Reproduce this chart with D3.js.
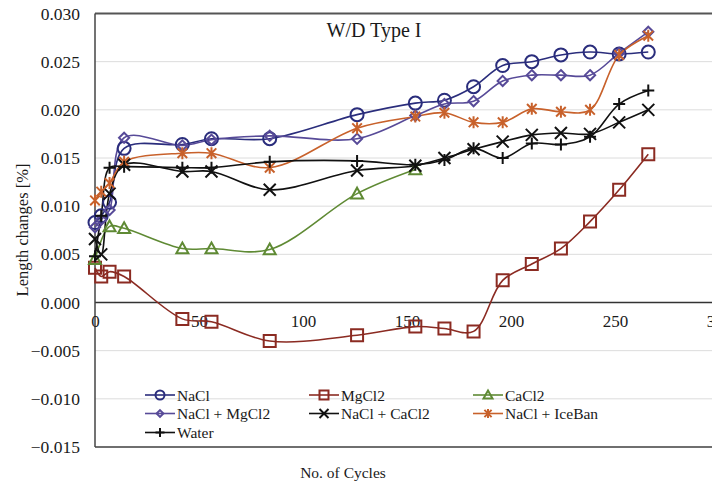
<!DOCTYPE html>
<html><head><meta charset="utf-8">
<script src="https://cdn.jsdelivr.net/npm/d3@7"></script>
<style>body{margin:0;background:#fff}svg{display:block}text{font-family:"Liberation Serif","Times New Roman",serif;fill:#1a1a1a}</style>
</head><body><svg id="c" width="712" height="483"></svg>
<script>
const cycles = [0,3,7,14,42,56,84,126,154,168,182,196,210,224,238,252,266];
const cyclesCaCl2 = [0,7,14,42,56,84,126,154];
const nacl      = [0.0083,0.0090,0.0104,0.0160,0.0164,0.0170,0.0170,0.0195,0.0207,0.0210,0.0224,0.0246,0.0250,0.0257,0.0260,0.0258,0.0260];
const mgcl2     = [0.0036,0.0027,0.0032,0.0027,-0.0017,-0.0020,-0.0040,-0.0034,-0.0025,-0.0027,-0.0030,0.0023,0.0040,0.0056,0.0084,0.0117,0.0154];
const cacl2     = [0.0045,0.0079,0.0077,0.0056,0.0056,0.0055,0.0113,0.0138];
const naclMgcl2 = [0.0078,0.0086,0.0096,0.0171,0.0163,0.0169,0.0173,0.0170,0.0194,0.0206,0.0209,0.0230,0.0236,0.0236,0.0236,0.0259,0.0281];
const naclCacl2 = [0.0066,0.0050,0.0113,0.0143,0.0136,0.0136,0.0117,0.0137,0.0142,0.0150,0.0159,0.0167,0.0174,0.0176,0.0175,0.0187,0.0200];
const naclIceban= [0.0106,0.0115,0.0124,0.0146,0.0155,0.0155,0.0140,0.0181,0.0193,0.0197,0.0187,0.0187,0.0201,0.0198,0.0200,0.0257,0.0277];
const water     = [0.0048,0.0090,0.0140,0.0141,0.0140,0.0140,0.0146,0.0147,0.0143,0.0148,0.0160,0.0150,0.0165,0.0164,0.0172,0.0206,0.0220];
const seriesNames = ["NaCl","MgCl2","CaCl2","NaCl + MgCl2","NaCl + CaCl2","NaCl + IceBan","Water"];
const yTicks = [-0.015,-0.010,-0.005,0,0.005,0.010,0.015,0.020,0.025,0.030];
const xTicks = [0,50,100,150,200,250,300];

const series = [
  {name:seriesNames[0], x:cycles, y:nacl, color:"#2a2d7c", marker:"circle"},
  {name:seriesNames[1], x:cycles, y:mgcl2, color:"#8b2b22", marker:"square"},
  {name:seriesNames[2], x:cyclesCaCl2, y:cacl2, color:"#5f8a34", marker:"triangle"},
  {name:seriesNames[3], x:cycles, y:naclMgcl2, color:"#574a98", marker:"diamond"},
  {name:seriesNames[4], x:cycles, y:naclCacl2, color:"#111111", marker:"x"},
  {name:seriesNames[5], x:cycles, y:naclIceban, color:"#c8612b", marker:"star"},
  {name:seriesNames[6], x:cycles, y:water, color:"#111111", marker:"plus"}
];

const svg = d3.select("#c");
svg.append("rect").attr("width",712).attr("height",483).attr("fill","#fff");
const x = d3.scaleLinear().domain([0,300]).range([95,719]);
const y = d3.scaleLinear().domain([-0.015,0.030]).range([447,13.5]);

svg.append("g").selectAll("line").data(yTicks).join("line")
  .attr("x1",95).attr("x2",719).attr("y1",d=>y(d)).attr("y2",d=>y(d))
  .attr("stroke",d=>d===0?"#333":"#dcdcdc").attr("stroke-width",d=>d===0?1.5:1);
svg.append("line").attr("x1",95).attr("x2",719).attr("y1",y(0.030)).attr("y2",y(0.030)).attr("stroke","#555").attr("stroke-width",2);
svg.append("line").attr("x1",95).attr("x2",719).attr("y1",y(-0.015)).attr("y2",y(-0.015)).attr("stroke","#444").attr("stroke-width",1.5);
svg.append("line").attr("x1",95).attr("x2",95).attr("y1",y(0.030)).attr("y2",y(-0.015)).attr("stroke","#444").attr("stroke-width",1.5);

const yAxis = d3.axisLeft(y).tickValues(yTicks).tickFormat(d3.format(".3f")).tickSize(0).tickPadding(15);
const gy = svg.append("g").attr("transform","translate(95,0)").call(yAxis).attr("font-family",null);
gy.select(".domain").remove();
gy.selectAll("text").style("font-family","'Liberation Serif', serif").style("font-size","17.5px").attr("fill","#1a1a1a");

const xAxis = d3.axisBottom(x).tickValues(xTicks).tickSize(0).tickPadding(12);
const gx = svg.append("g").attr("transform",`translate(0,${y(0)})`).call(xAxis).attr("font-family",null);
gx.select(".domain").remove();
gx.selectAll("text").style("font-family","'Liberation Serif', serif").style("font-size","17px").attr("fill","#1a1a1a");
gx.selectAll(".tick").filter(d=>d===0).select("text").attr("fill","#888");

function markerPath(type, s){
  const h=s/2;
  switch(type){
    case "circle": return d3.symbol(d3.symbolCircle, Math.PI*h*h)();
    case "square": return `M${-h},${-h}H${h}V${h}H${-h}Z`;
    case "triangle": return `M0,${-h}L${h},${h*0.8}L${-h},${h*0.8}Z`;
    case "diamond": {const k=h*0.85; return `M0,${-k}L${k},0L0,${k}L${-k},0Z`;}
    case "x": return `M${-h},${-h}L${h},${h}M${-h},${h}L${h},${-h}`;
    case "plus": return `M${-h},0H${h}M0,${-h}V${h}`;
    case "star": return `M${-h*0.8},${-h*0.8}L${h*0.8},${h*0.8}M${-h*0.8},${h*0.8}L${h*0.8},${-h*0.8}M0,${-h}V${h}`;
  }
}

const line = d3.line().x(d=>x(d[0])).y(d=>y(d[1])).curve(d3.curveCatmullRom.alpha(0.5));
const gSeries = svg.append("g");
series.forEach(s=>{
  const pts = s.x.map((c,i)=>[c,s.y[i]]);
  gSeries.append("path").attr("d",line(pts)).attr("fill","none").attr("stroke",s.color).attr("stroke-width",1.6);
});
series.forEach(s=>{
  const pts = s.x.map((c,i)=>[c,s.y[i]]);
  const sz = s.marker==="diamond"?12:(s.marker==="circle"?13:12);
  gSeries.append("g").selectAll("path").data(pts).join("path")
    .attr("transform",d=>`translate(${x(d[0])},${y(d[1])})`)
    .attr("d",markerPath(s.marker,sz)).attr("fill","none").attr("stroke",s.color).attr("stroke-width",2);
});

svg.append("text").attr("x",374).attr("y",37).attr("text-anchor","middle").style("font-size","20px").text("W/D Type I");

const legendPos = [[145,395],[309,395],[473,395],[145,413.5],[309,413.5],[473,413.5],[145,432.5]];
const lg = svg.append("g");
series.forEach((s,i)=>{
  const [lx,ly]=legendPos[i];
  lg.append("line").attr("x1",lx).attr("x2",lx+30).attr("y1",ly).attr("y2",ly).attr("stroke",s.color).attr("stroke-width",1.6);
  lg.append("path").attr("transform",`translate(${lx+15},${ly})`).attr("d",markerPath(s.marker,s.marker==="diamond"?8:9))
    .attr("fill","none").attr("stroke",s.color).attr("stroke-width",2);
  lg.append("text").attr("x",lx+32).attr("y",ly+5.5).style("font-size","15.5px").text(s.name);
});

svg.append("text").attr("x",343).attr("y",478).attr("text-anchor","middle").style("font-size","15.5px").text("No. of Cycles");
svg.append("text").attr("transform","translate(28,230) rotate(-90)").attr("text-anchor","middle").style("font-size","16.5px").text("Length changes [%]");
</script></body></html>
